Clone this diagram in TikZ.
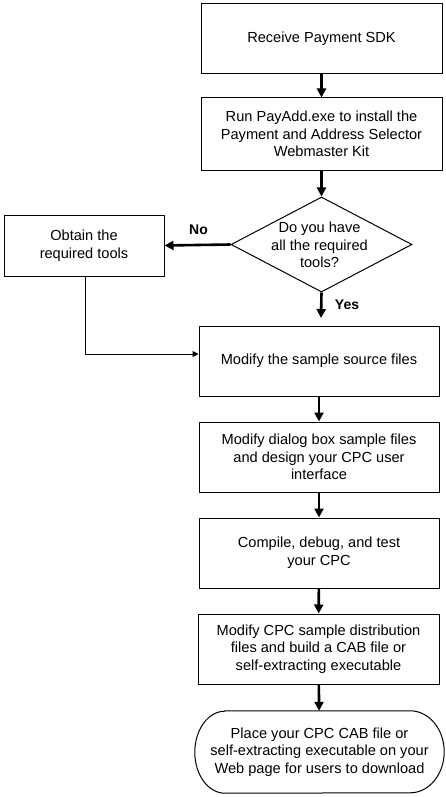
\documentclass[tikz,border=0pt]{standalone}
\usepackage{fontspec}
\setmainfont{Liberation Sans}
\usetikzlibrary{arrows.meta,shapes.geometric}
\begin{document}
\begin{tikzpicture}[x=1pt,y=-1pt,
  every node/.style={font=\fontsize{14.6}{17.7}\selectfont, inner sep=0pt, align=center},
  box/.style={draw, line width=1pt, rectangle, minimum width=#1},
  box/.default=240pt,
  flow/.style={line width=2.6pt, -{Triangle[width=9pt,length=9pt]}},
  thinflow/.style={line width=1pt, -{Triangle[width=6pt,length=6pt]}},
  lbl/.style={font=\fontsize{14}{17}\selectfont\bfseries}]
\useasboundingbox (0,0) rectangle (446,797);
\node[box=241pt, minimum height=70pt] (b1) at (321.5,39) {Receive Payment SDK};
\node[box=241pt, minimum height=72pt] (b2) at (321.5,134) {Run PayAdd.exe to install the\\Payment and Address Selector\\Webmaster Kit};
\node[draw, line width=1pt, diamond, minimum width=181pt, minimum height=95pt] (d) at (321.5,244.5) {};
\node (dt) at (319.5,245) {Do you have\\all the required\\tools?};
\node[box=160pt, minimum height=61pt] (ob) at (84,245.5) {Obtain the\\required tools};
\node[box=240pt, minimum height=70pt] (b3) at (319,361) {Modify the sample source files};
\node[box=240pt, minimum height=70pt] (b4) at (319,457) {Modify dialog box sample files\\and design your CPC user\\interface};
\node[box=240pt, minimum height=70pt] (b5) at (319,553) {Compile, debug, and test\\your CPC};
\node[box=241pt, minimum height=70pt] (b6) at (318.5,649) {Modify CPC sample distribution\\files and build a CAB file or\\self-extracting executable};
\node[minimum width=249pt, minimum height=82pt] (t) at (319.5,752) {Place your CPC CAB file or\\self-extracting executable on your\\Web page for users to download};
\draw[line width=1pt] ([xshift=30pt]t.north west) -- ([xshift=-34pt]t.north east)
  arc[start angle=90, end angle=-90, x radius=34pt, y radius=41pt]
  -- ([xshift=30pt]t.south west)
  arc[start angle=270, end angle=90, x radius=30pt, y radius=41pt] -- cycle;
\node[lbl] (no) at (198.5,230) {No};
\node[lbl] (yes) at (347,305) {Yes};
\coordinate (yend) at (321,318);
\coordinate (corner) at (85,354);
\draw[flow] (b1) -- (b2);
\draw[flow] (b2) -- (d);
\draw[flow] (d.west) -- (ob.east);
\draw[flow] (d.south) -- (yend);
\draw[thinflow] (ob.south -| corner) -- (corner) -- (b3.west |- corner);
\draw[flow] (b3) -- (b4);
\draw[flow] (b4) -- (b5);
\draw[flow] (b5) -- (b6);
\draw[flow] (b6) -- (t);
\end{tikzpicture}
\end{document}
